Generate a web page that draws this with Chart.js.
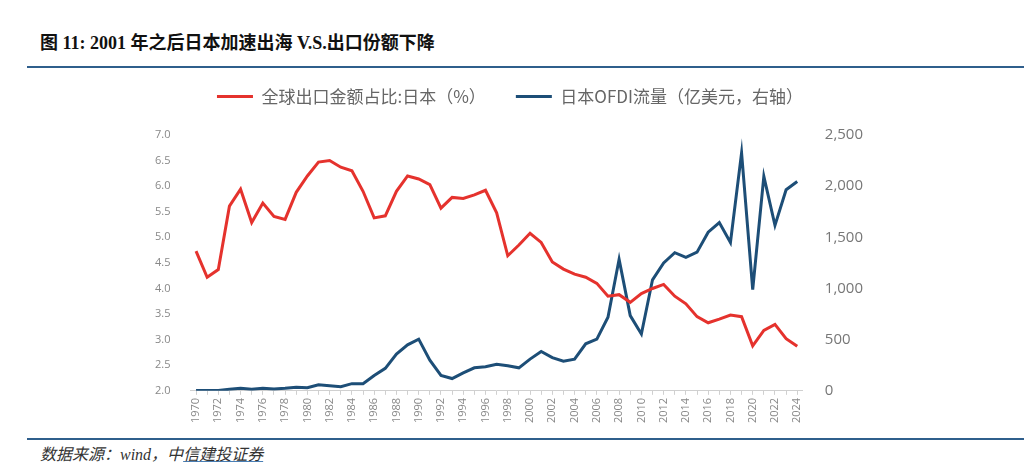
<!DOCTYPE html>
<html>
<head>
<meta charset="utf-8">
<script src="https://cdn.jsdelivr.net/npm/chart.js@4.4.1/dist/chart.umd.min.js"></script>
<style>
  body { margin: 0; width: 1024px; height: 475px; background: #fff; position: relative; overflow: hidden; }
  #title { position: absolute; left: 40px; top: 28px; font: bold 18px "Liberation Serif", "Noto Sans CJK SC", serif; color: #111; }
  .rule { position: absolute; left: 27px; right: 0; height: 2px; background: #2f5f8c; }
  #source { position: absolute; left: 40px; top: 441px; font: italic 16px "Liberation Serif", "Noto Sans CJK SC", serif; color: #333; }
  #source u { text-decoration-color: #4a7fb5; }
  #wrap { position: absolute; left: 0; top: 58px; width: 1024px; height: 382px; }
</style>
</head>
<body>
<div id="title">图 11: 2001 年之后日本加速出海 V.S.出口份额下降</div>
<div class="rule" style="top:66px"></div>
<div id="wrap"><canvas id="chart"></canvas></div>
<div class="rule" style="top:438px"></div>
<div id="source">数据来源：wind，中<u>信建投证券</u></div>
<script>
// 연도 (X축)
const years = [];
for (let y = 1970; y <= 2024; y++) years.push(String(y));

// 全球出口金额占比:日本（%） - 왼쪽 축
const exportShare = [
  4.73, 4.22, 4.37, 5.61, 5.94, 5.29, 5.67, 5.41, 5.35, 5.88,
  6.20, 6.47, 6.50, 6.37, 6.30, 5.90, 5.38, 5.42, 5.90, 6.20,
  6.14, 6.03, 5.57, 5.78, 5.76, 5.83, 5.92, 5.48, 4.64, 4.85,
  5.08, 4.90, 4.52, 4.38, 4.28, 4.22, 4.10, 3.85, 3.88, 3.73,
  3.90, 4.00, 4.08, 3.85, 3.70, 3.45, 3.33, 3.40, 3.48, 3.45,
  2.88, 3.18, 3.30, 3.02, 2.87
];

// 日本OFDI流量（亿美元） - 오른쪽 축
const ofdiFlow = [
  4, 4, 4, 15, 25, 15, 25, 18, 25, 35,
  30, 60, 50, 40, 70, 70, 150, 220, 360, 450,
  505, 300, 150, 120, 175, 225, 235, 260, 245, 225,
  310, 385, 325, 290, 310, 460, 505, 720, 1285, 735,
  555, 1085, 1250, 1350, 1305, 1355, 1550, 1645, 1450, 2325,
  990, 2095, 1617, 1965, 2045
];

// 축 눈금
const leftTicks = { min: 2, max: 7, step: 0.5 };
const rightTicks = { min: 0, max: 2500, step: 500 };

const tickFont = { family: '"Open Sans", "Noto Sans", sans-serif' };

// 레전드 아래 여백 추가
const legendGap = {
  id: 'legendGap',
  beforeInit(chart) {
    const fit = chart.legend.fit;
    chart.legend.fit = function () {
      fit.bind(chart.legend)();
      this.height += 20;
    };
  }
};

const ctx = document.getElementById('chart');
new Chart(ctx, {
  type: 'line',
  data: {
    labels: years,
    datasets: [{
      label: '全球出口金额占比:日本（%）',
      data: exportShare,
      borderColor: '#e5322d',
      backgroundColor: '#e5322d',
      borderWidth: 3,
      pointRadius: 0,
      tension: 0,
      yAxisID: 'y'
    }, {
      label: '日本OFDI流量（亿美元，右轴）',
      data: ofdiFlow,
      borderColor: '#1d4e77',
      backgroundColor: '#1d4e77',
      borderWidth: 3,
      pointRadius: 0,
      tension: 0,
      yAxisID: 'y1'
    }]
  },
  plugins: [legendGap],
  options: {
    responsive: true,
    maintainAspectRatio: false,
    animation: false,
    layout: { padding: { left: 143, right: 147, top: 0, bottom: 14 } },
    plugins: {
      tooltip: { enabled: false },
      legend: {
        position: 'top',
        labels: {
          usePointStyle: true,
          pointStyle: 'line',
          pointStyleWidth: 36,
          boxHeight: 3,
          padding: 30,
          color: '#666',
          font: { size: 17, family: '"Noto Sans CJK SC", sans-serif' }
        }
      }
    },
    scales: {
      x: {
        offset: true,
        grid: { display: true, drawOnChartArea: false, tickLength: 4, color: '#d0d0d0' },
        border: { display: true, color: '#d0d0d0' },
        ticks: {
          autoSkip: false,
          minRotation: 90,
          maxRotation: 90,
          color: '#888',
          font: { ...tickFont, size: 11 },
          callback: function (v, i) { return i % 2 === 0 ? years[i] : ''; }
        }
      },
      y: {
        position: 'left',
        min: leftTicks.min,
        max: leftTicks.max,
        grid: { display: false },
        border: { display: false },
        ticks: {
          stepSize: leftTicks.step,
          color: '#888',
          padding: 12,
          font: { ...tickFont, size: 11 },
          callback: v => v.toFixed(1)
        }
      },
      y1: {
        position: 'right',
        min: rightTicks.min,
        max: rightTicks.max,
        grid: { display: false },
        border: { display: false },
        ticks: {
          stepSize: rightTicks.step,
          color: '#777',
          padding: 14,
          font: { ...tickFont, size: 15 },
          callback: v => v.toLocaleString('en-US')
        }
      }
    }
  }
});
</script>
</body>
</html>
